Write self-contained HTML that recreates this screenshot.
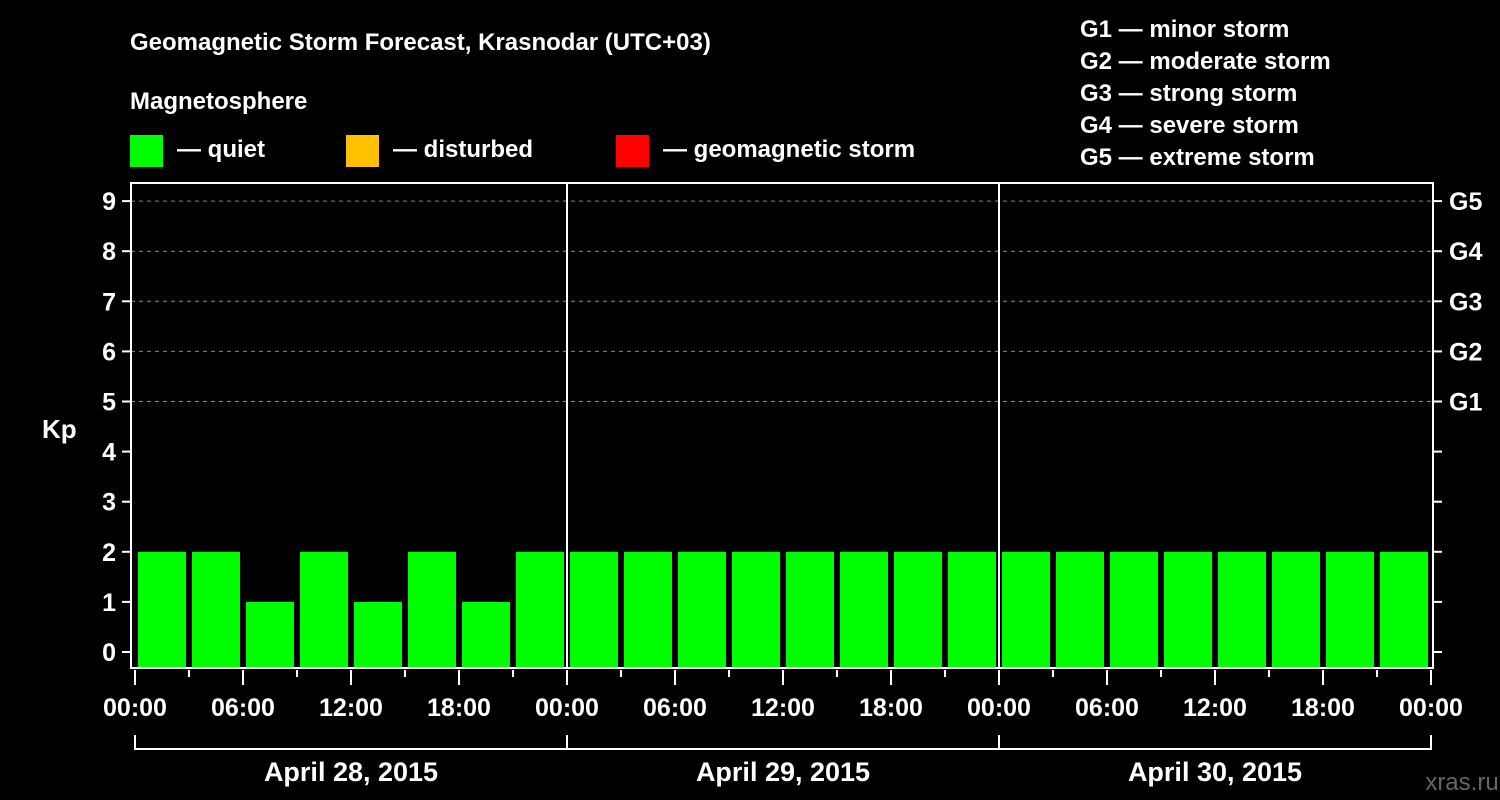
<!DOCTYPE html>
<html><head><meta charset="utf-8"><style>
body{margin:0;background:#000;}
svg{display:block;font-family:"Liberation Sans",Arial,sans-serif;font-weight:bold;}
</style></head><body>
<svg width="1500" height="800" xmlns="http://www.w3.org/2000/svg">
<rect width="1500" height="800" fill="#000"/>
<text x="130" y="50" fill="#fff" font-size="24">Geomagnetic Storm Forecast, Krasnodar (UTC+03)</text>
<text x="130" y="109" fill="#fff" font-size="24">Magnetosphere</text>
<g>
<rect x="130" y="135" width="33" height="32" fill="#00ff00"/>
<text x="177" y="157" fill="#fff" font-size="24">— quiet</text>
<rect x="346" y="135" width="33" height="32" fill="#ffc000"/>
<text x="393" y="157" fill="#fff" font-size="24">— disturbed</text>
<rect x="616" y="135" width="33" height="32" fill="#ff0000"/>
<text x="663" y="157" fill="#fff" font-size="24">— geomagnetic storm</text>
</g>
<g fill="#fff" font-size="24">
<text x="1080" y="37">G1 — minor storm</text>
<text x="1080" y="69">G2 — moderate storm</text>
<text x="1080" y="101">G3 — strong storm</text>
<text x="1080" y="133">G4 — severe storm</text>
<text x="1080" y="165">G5 — extreme storm</text>
</g>
<text x="42" y="438" fill="#fff" font-size="26">Kp</text>
<text x="1462" y="790" fill="#666" font-size="24" font-weight="normal" text-anchor="middle">xras.ru</text>
<g id="plot"></g>
</svg>
<script>
const kpValues=[2,2,1,2,1,2,1,2, 2,2,2,2,2,2,2,2, 2,2,2,2,2,2,2,2];
const dayLabels=["April 28, 2015","April 29, 2015","April 30, 2015"];
const hourLabels=["00:00","06:00","12:00","18:00"];
const stormLabels=["G1","G2","G3","G4","G5"];
const NS="http://www.w3.org/2000/svg";
const g=document.getElementById('plot');
const X0=135,SLOT=54,L=131,R=1433,TOP=183,BOT=668;
const y=v=>652-v*50.1;
const x=i=>X0+i*SLOT;
function mk(t,a,txt){const e=document.createElementNS(NS,t);for(const k in a)e.setAttribute(k,a[k]);if(txt!=null)e.textContent=txt;g.appendChild(e);return e;}
for(let v=5;v<=9;v++){const e=mk('line',{x1:L,x2:R,y1:y(v),y2:y(v),stroke:'#888','stroke-dasharray':'4,4','stroke-width':1});

}
kpValues.forEach((v,i)=>{const c=v>=5?'#ff0000':(v>=4?'#ffc000':'#00ff00');
const r=mk('rect',{x:x(i)+3,y:y(v),width:48,height:BOT-y(v),fill:c});

});
for(let d=1;d<dayLabels.length;d++){const e=mk('line',{x1:x(d*8),x2:x(d*8),y1:TOP,y2:BOT,stroke:'#fff','stroke-width':2});

}
const fr=mk('rect',{x:L,y:TOP,width:R-L,height:BOT-TOP,fill:'none',stroke:'#fff','stroke-width':2});


for(let v=0;v<=9;v++){mk('line',{x1:L-9,x2:L,y1:y(v),y2:y(v),stroke:'#fff','stroke-width':2});
mk('line',{x1:R,x2:R+9,y1:y(v),y2:y(v),stroke:'#fff','stroke-width':2});
const t=mk('text',{x:116,y:y(v)+9,fill:'#fff','font-size':25,'text-anchor':'end'},String(v));

}
stormLabels.forEach((s,i)=>{const t=mk('text',{x:1449,y:y(5+i)+9,fill:'#fff','font-size':25},s);

});
for(let i=0;i<=kpValues.length;i++){const major=i%2===0;
mk('line',{x1:x(i),x2:x(i),y1:BOT+2,y2:major?BOT+17:BOT+9,stroke:'#fff','stroke-width':2});
if(major){const t=mk('text',{x:x(i),y:716,fill:'#fff','font-size':25,'text-anchor':'middle'},hourLabels[(i/2)%4]);

}}
dayLabels.forEach((d,k)=>{const a=x(k*8),b=x(k*8+8);
mk('path',{d:`M${a+(k?0:0)},735V749H${b}V735`,fill:'none',stroke:'#fff','stroke-width':2});
const t=mk('text',{x:(a+b)/2,y:781,fill:'#fff','font-size':27,'text-anchor':'middle'},d);

});
</script>
</body></html>
